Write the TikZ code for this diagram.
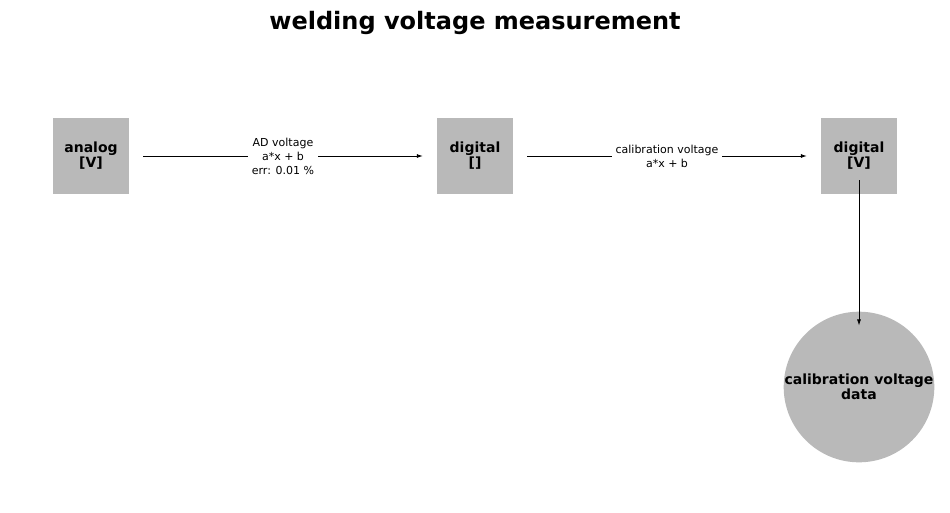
\documentclass[tikz,border=0pt]{standalone}
\usepackage{fontspec}
\setmainfont{DejaVu Sans}
\usetikzlibrary{arrows.meta}
\begin{document}
\begin{tikzpicture}[x=1pt,y=-1pt,
  box/.style={fill=gray!55!white,minimum size=76pt,inner sep=0pt,align=center,font=\fontsize{14}{15}\selectfont\bfseries},
  circ/.style={circle,fill=gray!55!white,minimum size=76pt,inner sep=0pt,align=center,font=\fontsize{14}{15}\selectfont\bfseries},
  lab/.style={fill=white,align=center,inner sep=4pt,font=\fontsize{11}{14}\selectfont},
  arr/.style={-{Latex[length=6pt,width=4pt]},line width=0.8pt}]
\useasboundingbox (0,0) rectangle (950,512);
\node[font=\fontsize{24}{28}\selectfont\bfseries] (t) at (475,23) {welding voltage measurement};
\node[box] (a) at (91,156) {analog\\{}[V]};
\node[box] (b) at (475,156) {digital\\{}[]};
\node[box] (c) at (859,156) {digital\\{}[V]};
\node[circ] (d) at (859,387) {calibration voltage\\data};
\draw[arr] ([xshift=14pt]a.east) -- ([xshift=-14pt]b.west) node[lab,midway] {AD voltage\\a*x + b\\err: 0.01 \%};
\draw[arr] ([xshift=14pt]b.east) -- ([xshift=-14pt]c.west) node[lab,midway] {calibration voltage\\a*x + b};
\draw[arr] ([yshift=14pt]c.south) -- ([yshift=-14pt]d.north);
\end{tikzpicture}
\end{document}
